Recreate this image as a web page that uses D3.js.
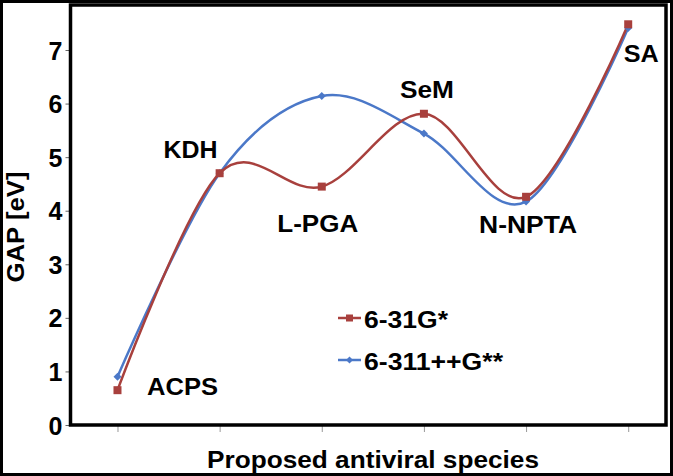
<!DOCTYPE html>
<html>
<head>
<meta charset="utf-8">
<script src="https://cdn.jsdelivr.net/npm/d3@7"></script>
<style>
  html, body { margin: 0; padding: 0; background: #fff; }
  svg { display: block; }
  text { font-family: "Liberation Sans", Arial, sans-serif; font-weight: bold; fill: #000; }
</style>
</head>
<body>
<svg id="chart" width="673" height="476"></svg>
<script>
// ---- data ----
const categories = ["ACPS", "KDH", "L-PGA", "SeM", "N-NPTA", "SA"];
const series631 = [0.65, 4.70, 4.45, 5.81, 4.26, 7.48];      // 6-31G*
const series6311 = [0.90, 4.70, 6.14, 5.44, 4.17, 7.41];     // 6-311++G**
const seriesNames = ["6-31G*", "6-311++G**"];
const yTicks = [0, 1, 2, 3, 4, 5, 6, 7];
const xTitle = "Proposed antiviral species";
const yTitle = "GAP [eV]";

// ---- layout ----
const W = 673, H = 476;
const plot = { left: 70.5, right: 666, top: 5, bottom: 425 };
const colors = ["#a8403d", "#4b78c8"];

const svg = d3.select("#chart");

// outer border
svg.append("rect").attr("x", 1.5).attr("y", 1.5).attr("width", W - 3).attr("height", H - 3)
  .attr("fill", "#fff").attr("stroke", "#000").attr("stroke-width", 3);

const x = d3.scaleLinear().domain([-0.46, 5.37]).range([plot.left, plot.right]);
const y = d3.scaleLinear().domain([0, 7.84]).range([plot.bottom, plot.top]);

// x axis ticks (no labels)
const xAxis = d3.axisBottom(x).tickValues(d3.range(categories.length)).tickSize(7).tickFormat("");
const gx = svg.append("g").attr("transform", `translate(0,${plot.bottom})`).call(xAxis);
gx.select(".domain").remove();
gx.selectAll("line").attr("stroke", "#999").attr("stroke-width", 1);

// y axis
const yAxis = d3.axisLeft(y).tickValues(yTicks).tickSize(5).tickPadding(3).tickFormat(d3.format("d"));
const gy = svg.append("g").attr("transform", `translate(${plot.left},0)`).call(yAxis);
gy.select(".domain").remove();
gy.selectAll("line").attr("stroke", "#666").attr("stroke-width", 1);
gy.selectAll("text").attr("font-size", 25).attr("dy", "0.36em")
  .style("font-family", '"Liberation Sans", Arial, sans-serif').style("font-weight", "bold").attr("fill", "#000");

// plot frame
svg.append("rect").attr("x", plot.left).attr("y", plot.top)
  .attr("width", plot.right - plot.left).attr("height", plot.bottom - plot.top)
  .attr("fill", "none").attr("stroke", "#000").attr("stroke-width", 3.5);

// lines
const allSeries = [series631, series6311];
const line = d3.line().x((d, i) => x(i)).y(d => y(d)).curve(d3.curveCardinal.tension(0));

// draw blue first then red on top
[1, 0].forEach(s => {
  svg.append("path").datum(allSeries[s]).attr("d", line)
    .attr("fill", "none").attr("stroke", colors[s]).attr("stroke-width", 2.5);
});

// markers
const sq = 8, dm = 4;
svg.append("g").selectAll("path").data(series6311).join("path")
  .attr("d", (d, i) => {
    const cx = x(i), cy = y(d);
    return `M${cx},${cy - dm}L${cx + dm},${cy}L${cx},${cy + dm}L${cx - dm},${cy}Z`;
  })
  .attr("fill", colors[1]);
svg.append("g").selectAll("rect").data(series631).join("rect")
  .attr("x", (d, i) => x(i) - sq / 2).attr("y", d => y(d) - sq / 2)
  .attr("width", sq).attr("height", sq).attr("fill", colors[0]);

// category annotations (offsets from each point's x position)
const labelLayout = [
  { dx: 65, base: 395, len: 71 },
  { dx: -29, base: 158, len: 54 },
  { dx: -4, base: 232, len: 81 },
  { dx: 3, base: 98, len: 54 },
  { dx: 2, base: 233, len: 98 },
  { dx: 13, base: 62, len: 35 }
];
svg.append("g").selectAll("text").data(categories).join("text")
  .attr("x", (d, i) => x(i) + labelLayout[i].dx)
  .attr("y", (d, i) => labelLayout[i].base)
  .attr("text-anchor", "middle")
  .attr("font-size", 23)
  .attr("textLength", (d, i) => labelLayout[i].len)
  .attr("lengthAdjust", "spacingAndGlyphs")
  .text(d => d);

// legend
const legend = svg.append("g");
const legY = [318, 360];
const legLen = [84, 139];
seriesNames.forEach((name, s) => {
  legend.append("line").attr("x1", 338).attr("x2", 361).attr("y1", legY[s]).attr("y2", legY[s])
    .attr("stroke", colors[s]).attr("stroke-width", 2.5);
  if (s === 0) {
    legend.append("rect").attr("x", 349.5 - 3.5).attr("y", legY[s] - 3.5).attr("width", 7).attr("height", 7).attr("fill", colors[s]);
  } else {
    legend.append("path").attr("d", `M349.5,${legY[s] - 3.5}L353,${legY[s]}L349.5,${legY[s] + 3.5}L346,${legY[s]}Z`).attr("fill", colors[s]);
  }
  legend.append("text").attr("x", 364).attr("y", legY[s] + 10)
    .attr("font-size", 24).attr("textLength", legLen[s]).attr("lengthAdjust", "spacingAndGlyphs")
    .text(name);
});

// axis titles
svg.append("text").attr("x", 373).attr("y", 468).attr("text-anchor", "middle")
  .attr("font-size", 24).attr("textLength", 332).attr("lengthAdjust", "spacingAndGlyphs")
  .text(xTitle);
svg.append("text").attr("transform", "translate(24,227) rotate(-90)").attr("text-anchor", "middle")
  .attr("font-size", 24).attr("textLength", 111).attr("lengthAdjust", "spacingAndGlyphs")
  .text(yTitle);
</script>
</body>
</html>
